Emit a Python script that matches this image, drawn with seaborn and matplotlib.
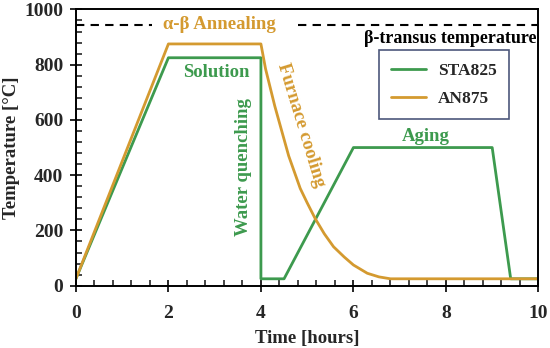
import matplotlib
matplotlib.use("Agg")
import matplotlib.pyplot as plt
from matplotlib.ticker import MultipleLocator
import seaborn as sns
import pandas as pd

# Data
sta_time = [0, 2, 4, 4, 4.5, 6, 9, 9.4, 10]
sta_temp = [25, 825, 825, 25, 25, 500, 500, 25, 25]
an_time = [0, 2, 4, 4.1, 4.3, 4.6, 4.85, 5.0, 5.17, 5.37, 5.57, 5.8, 6.0, 6.3, 6.55, 6.8, 10]
an_temp = [25, 875, 875, 785, 650, 470, 352, 300, 244, 188, 141, 104, 75, 45, 32, 25, 25]
beta_transus = 945
series_names = ["STA825", "AN875"]
colors = {"STA825": "#3d9a4e", "AN875": "#d49a30"}

sns.set_theme(style="ticks")
plt.rcParams['font.family'] = ['Liberation Serif', 'DejaVu Serif']
plt.rcParams['font.weight'] = 'bold'

fig, ax = plt.subplots(figsize=(5.5, 3.48), dpi=100)
fig.subplots_adjust(left=0.138, right=0.979, top=0.973, bottom=0.179)

df_sta = pd.DataFrame({"Time": sta_time, "Temp": sta_temp, "series": series_names[0]})
df_an = pd.DataFrame({"Time": an_time, "Temp": an_temp, "series": series_names[1]})

sns.lineplot(data=df_sta, x="Time", y="Temp", color=colors["STA825"], lw=2.0,
             sort=False, estimator=None, ax=ax, label="STA825")
sns.lineplot(data=df_an, x="Time", y="Temp", color=colors["AN875"], lw=2.0,
             sort=False, estimator=None, ax=ax, label="AN875")
for ln in ax.get_lines():
    ln.set_solid_joinstyle("round")

ax.axhline(beta_transus, xmin=0, xmax=0.165, color="black", ls=(0, (4, 3)), lw=1.5)
ax.axhline(beta_transus, xmin=0.48, xmax=1.0, color="black", ls=(0, (4, 3)), lw=1.5)

ax.set_xlim(0, 10)
ax.set_ylim(0, 1000)
ax.xaxis.set_major_locator(MultipleLocator(2))
ax.xaxis.set_minor_locator(MultipleLocator(0.4))
ax.yaxis.set_major_locator(MultipleLocator(200))
ax.yaxis.set_minor_locator(MultipleLocator(40))
ax.tick_params(which="major", direction="inout", length=8, width=1.4, labelsize=14)
ax.tick_params(axis="x", which="major", pad=10)
ax.tick_params(axis="y", which="major", pad=5)
ax.tick_params(which="minor", direction="in", length=4, width=1.2)
for lab in ax.get_xticklabels() + ax.get_yticklabels():
    lab.set_fontweight("bold")
for s in ax.spines.values():
    s.set_linewidth(1.4)
    s.set_color("black")

ax.set_xlabel("Time [hours]", fontsize=13.5, fontweight="bold", labelpad=6)
ax.set_ylabel("Temperature [°C]", fontsize=13.5, fontweight="bold", labelpad=3)

leg = ax.legend(loc="upper left", bbox_to_anchor=(0.655, 0.852), fontsize=12.5,
                frameon=True, fancybox=False, handlelength=2.0, borderpad=0.7,
                labelspacing=0.7, handletextpad=0.7, borderaxespad=0)
leg.get_frame().set_edgecolor("#1f2d5a")
leg.get_frame().set_linewidth(1.2)
for t in leg.get_texts():
    t.set_fontweight("bold")

ax.text(3.1, 945, "α-β Annealing", color=colors["AN875"], fontsize=13.5,
        fontweight="bold", ha="center", va="center")
ax.text(9.95, 895, "β-transus temperature", color="black", fontsize=13,
        fontweight="bold", ha="right", va="center")
ax.text(3.04, 770, "Solution", color=colors["STA825"], fontsize=13.5,
        fontweight="bold", ha="center", va="center")
ax.text(3.63, 430, "Water quenching", color=colors["STA825"], fontsize=13.5,
        fontweight="bold", ha="center", va="center", rotation=90)
ax.text(4.87, 580, "Furnace cooling", color=colors["AN875"], fontsize=13.5,
        fontweight="bold", ha="center", va="center", rotation=-73)
ax.text(7.57, 541, "Aging", color=colors["STA825"], fontsize=13.5,
        fontweight="bold", ha="center", va="center")

fig.savefig("out.png", dpi=100)
